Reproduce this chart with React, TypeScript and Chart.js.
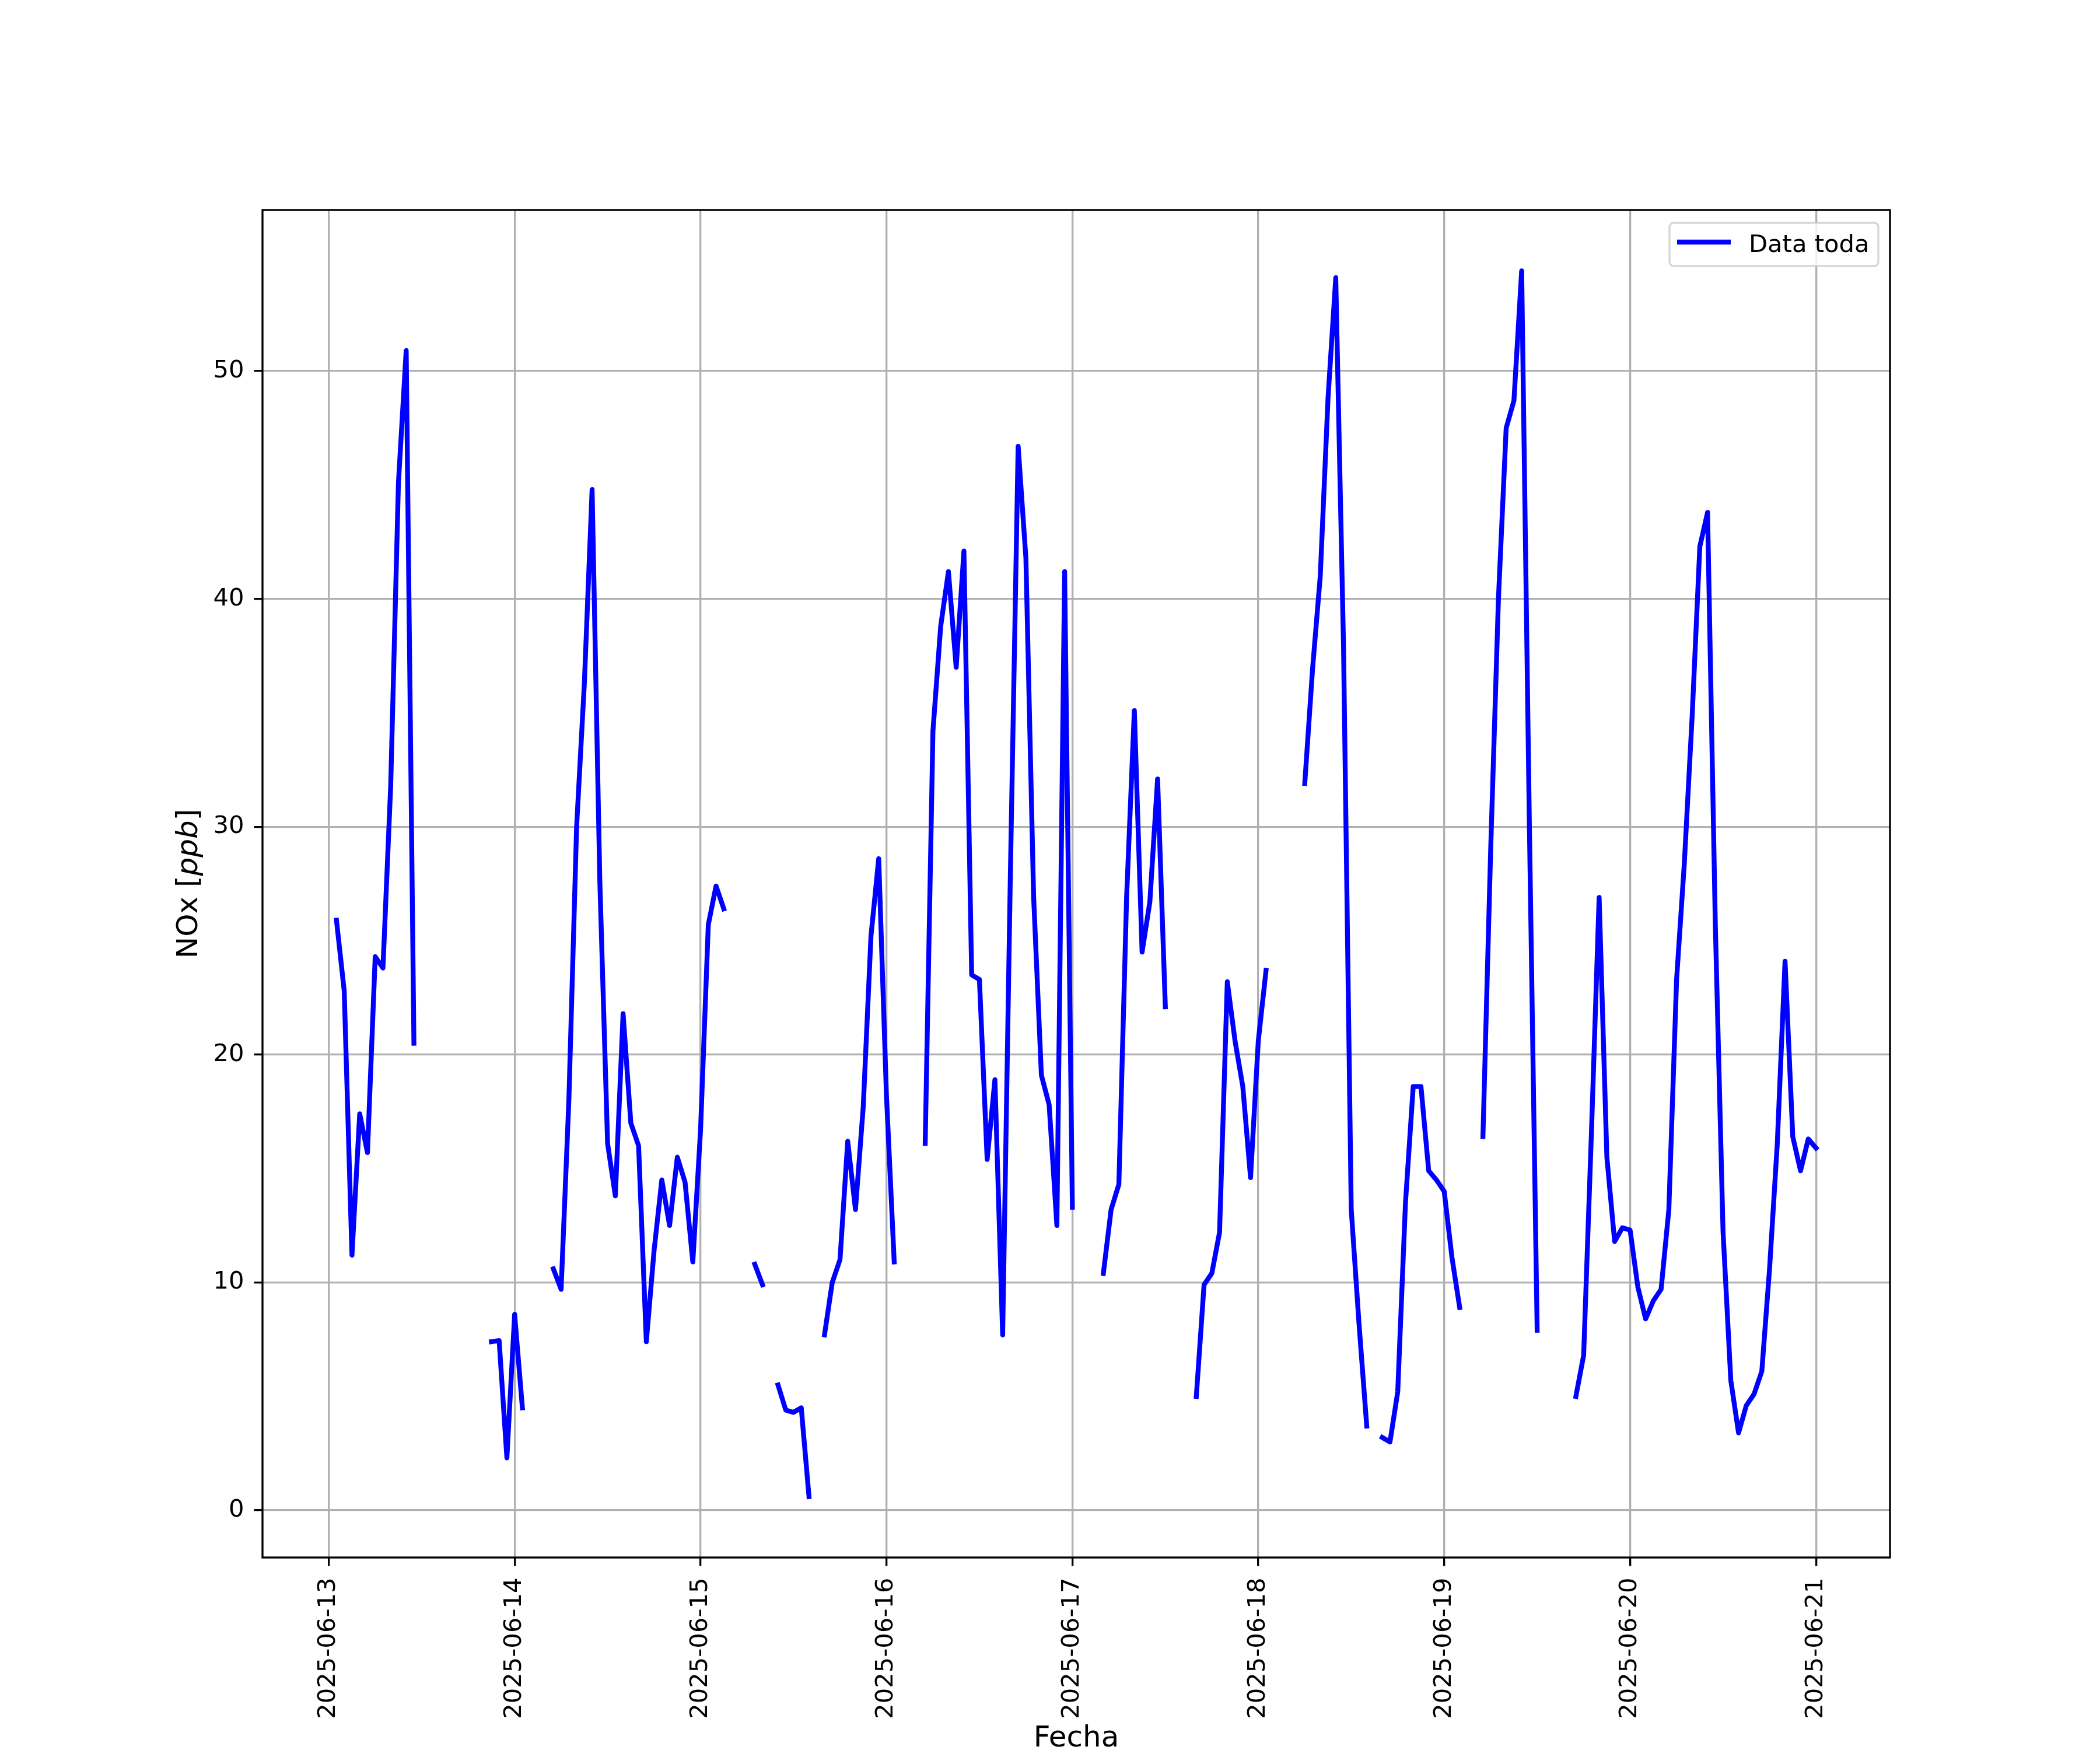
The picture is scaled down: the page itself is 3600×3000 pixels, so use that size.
import { useEffect, useRef } from "react";
import { Chart, registerables } from "chart.js";

Chart.register(...registerables);

// Tick labels (one per day, at 00:00)
const dateLabels = [
  "2025-06-13",
  "2025-06-14",
  "2025-06-15",
  "2025-06-16",
  "2025-06-17",
  "2025-06-18",
  "2025-06-19",
  "2025-06-20",
  "2025-06-21",
];

// Hourly NOx values [ppb], hour 00..23 of each day (null = missing)
const nox0613: (number | null)[] = [
  null, 25.9, 22.8, 11.2, 17.4, 15.7, 24.3, 23.8, 31.8, 45.1, 50.9, 20.5,
  null, null, null, null, null, null, null, null, null, 7.4, 7.45, 2.3,
];
const nox0614: (number | null)[] = [
  8.6, 4.5, null, null, null, 10.6, 9.7, 18.0, 30.0, 36.3, 44.8, 27.6,
  16.1, 13.8, 21.8, 17.0, 16.0, 7.4, 11.4, 14.5, 12.5, 15.5, 14.4, 10.9,
];
const nox0615: (number | null)[] = [
  16.7, 25.7, 27.4, 26.4, null, null, null, 10.8, 9.9, null, 5.5, 4.4,
  4.3, 4.5, 0.6, null, 7.7, 10.0, 11.0, 16.2, 13.2, 17.7, 25.2, 28.6,
];
const nox0616: (number | null)[] = [
  18.2, 10.9, null, null, null, 16.1, 34.2, 38.8, 41.2, 37.0, 42.1, 23.5,
  23.3, 15.4, 18.9, 7.7, 28.0, 46.7, 41.8, 26.9, 19.1, 17.8, 12.5, 41.2,
];
const nox0617: (number | null)[] = [
  13.3, null, null, null, 10.4, 13.2, 14.3, 26.9, 35.1, 24.5, 26.7, 32.1,
  22.1, null, null, null, 5.0, 9.9, 10.4, 12.2, 23.2, 20.6, 18.6, 14.6,
];
const nox0618: (number | null)[] = [
  20.6, 23.7, null, null, null, null, 31.9, 36.9, 41.0, 48.8, 54.1, 38.0,
  13.2, 8.2, 3.7, null, 3.2, 3.0, 5.2, 13.5, 18.6, 18.6, 14.9, 14.5,
];
const nox0619: (number | null)[] = [
  14.0, 11.1, 8.9, null, null, 16.4, 29.0, 40.0, 47.5, 48.7, 54.4, 30.0,
  7.9, null, null, null, null, 5.0, 6.8, 16.5, 26.9, 15.5, 11.8, 12.4,
];
const nox0620: (number | null)[] = [
  12.3, 9.8, 8.4, 9.2, 9.7, 13.2, 23.3, 28.4, 34.8, 42.3, 43.8, 25.7,
  12.2, 5.7, 3.4, 4.6, 5.1, 6.1, 10.6, 16.1, 24.1, 16.4, 14.9, 16.3,
];
const nox0621: (number | null)[] = [15.9];

const dailySeries = [nox0613, nox0614, nox0615, nox0616, nox0617, nox0618, nox0619, nox0620, nox0621];

const yTicks = [0, 10, 20, 30, 40, 50];
const seriesLabel = "Data toda";
const xTitle = "Fecha";
const yTitleStart = "NOx [";
const yTitleItalic = "ppb";
const yTitleEnd = "]";

const FONT = "DejaVu Sans";
const PT = 300 / 72;

export default function App() {
  const canvasRef = useRef<HTMLCanvasElement | null>(null);

  useEffect(() => {
    document.body.style.margin = "0";
    const canvas = canvasRef.current;
    if (!canvas) return;

    const points: { x: number; y: number | null }[] = [];
    dailySeries.forEach((arr, d) => {
      arr.forEach((v, h) => points.push({ x: d + h / 24, y: v }));
    });

    const decorPlugin = {
      id: "decor",
      afterDraw(chart: any) {
        const { ctx, chartArea } = chart;
        const { left, right, top, bottom } = chartArea;
        ctx.save();
        // frame (spines)
        ctx.strokeStyle = "#000";
        ctx.lineWidth = 0.8 * PT;
        ctx.strokeRect(left, top, right - left, bottom - top);

        // legend
        const lx0 = 2862, ly0 = 382, lx1 = 3220, ly1 = 456, r = 7;
        ctx.beginPath();
        ctx.moveTo(lx0 + r, ly0);
        ctx.lineTo(lx1 - r, ly0);
        ctx.arcTo(lx1, ly0, lx1, ly0 + r, r);
        ctx.lineTo(lx1, ly1 - r);
        ctx.arcTo(lx1, ly1, lx1 - r, ly1, r);
        ctx.lineTo(lx0 + r, ly1);
        ctx.arcTo(lx0, ly1, lx0, ly1 - r, r);
        ctx.lineTo(lx0, ly0 + r);
        ctx.arcTo(lx0, ly0, lx0 + r, ly0, r);
        ctx.closePath();
        ctx.fillStyle = "rgba(255,255,255,0.8)";
        ctx.fill();
        ctx.strokeStyle = "rgba(204,204,204,0.8)";
        ctx.lineWidth = 0.8 * PT;
        ctx.stroke();
        ctx.beginPath();
        ctx.strokeStyle = "#0000ff";
        ctx.lineWidth = 2 * PT;
        ctx.lineCap = "butt";
        ctx.moveTo(2875, 415);
        ctx.lineTo(2967, 415);
        ctx.stroke();
        ctx.fillStyle = "#000";
        ctx.font = `${10 * PT}px "${FONT}"`;
        ctx.textAlign = "left";
        ctx.textBaseline = "alphabetic";
        ctx.fillText(seriesLabel, 2998, 431.5);

        // x title
        ctx.font = `${12 * PT}px "${FONT}"`;
        ctx.textAlign = "center";
        ctx.fillText(xTitle, (left + right) / 2, 2994);

        // y title (mixed normal / italic)
        const normalFont = `${12 * PT}px "${FONT}"`;
        const italicFont = `oblique ${12 * PT}px "${FONT}"`;
        ctx.font = normalFont;
        const w1 = ctx.measureText(yTitleStart).width;
        const w3 = ctx.measureText(yTitleEnd).width;
        ctx.font = italicFont;
        const w2 = ctx.measureText(yTitleItalic).width;
        const total = w1 + w2 + w3;
        ctx.translate(338, (top + bottom) / 2);
        ctx.rotate(-Math.PI / 2);
        ctx.textAlign = "left";
        let x = -total / 2;
        ctx.font = normalFont;
        ctx.fillText(yTitleStart, x, 0);
        x += w1;
        ctx.font = italicFont;
        ctx.fillText(yTitleItalic, x, 0);
        x += w2;
        ctx.font = normalFont;
        ctx.fillText(yTitleEnd, x, 0);
        ctx.restore();
      },
    };

    const tickFont = { family: FONT, size: 10 * PT };

    const chart = new Chart(canvas, {
      type: "line",
      data: {
        datasets: [
          {
            label: seriesLabel,
            data: points as any,
            borderColor: "#0000ff",
            backgroundColor: "#0000ff",
            borderWidth: 2 * PT,
            pointRadius: 0,
            pointHoverRadius: 0,
            spanGaps: false,
            tension: 0,
            fill: false,
            borderJoinStyle: "round",
            borderCapStyle: "square",
          },
        ],
      },
      options: {
        animation: false,
        responsive: false,
        devicePixelRatio: 1,
        events: [],
        layout: { padding: { left: 0, top: 360, right: 360, bottom: 0 } },
        plugins: { legend: { display: false }, tooltip: { enabled: false } },
        scales: {
          x: {
            type: "linear",
            min: -0.3562,
            max: 8.3979,
            afterFit(s: any) {
              s.height = 330;
            },
            afterBuildTicks(s: any) {
              s.ticks = dateLabels.map((_, i) => ({ value: i }));
            },
            ticks: {
              autoSkip: false,
              minRotation: 90,
              maxRotation: 90,
              padding: 20,
              color: "#000",
              font: tickFont,
              callback: (v: any) => dateLabels[Math.round(Number(v))],
            },
            grid: {
              color: "#b0b0b0",
              lineWidth: 0.8 * PT,
              tickColor: "#000",
              tickWidth: 0.8 * PT,
              tickLength: 3.5 * PT,
            },
            border: { display: false },
          },
          y: {
            type: "linear",
            min: -2.07,
            max: 57.07,
            afterFit(s: any) {
              s.width = 450;
            },
            afterBuildTicks(s: any) {
              s.ticks = yTicks.map((v) => ({ value: v }));
            },
            ticks: {
              padding: 17,
              color: "#000",
              font: tickFont,
              callback: (v: any) => String(v),
            },
            grid: {
              color: "#b0b0b0",
              lineWidth: 0.8 * PT,
              tickColor: "#000",
              tickWidth: 0.8 * PT,
              tickLength: 3.5 * PT,
            },
            border: { display: false },
          },
        },
      } as any,
      plugins: [decorPlugin],
    });

    return () => chart.destroy();
  }, []);

  return (
    <div style={{ width: 3600, height: 3000, background: "#fff" }}>
      <canvas ref={canvasRef} width={3600} height={3000} style={{ display: "block" }} />
    </div>
  );
}
